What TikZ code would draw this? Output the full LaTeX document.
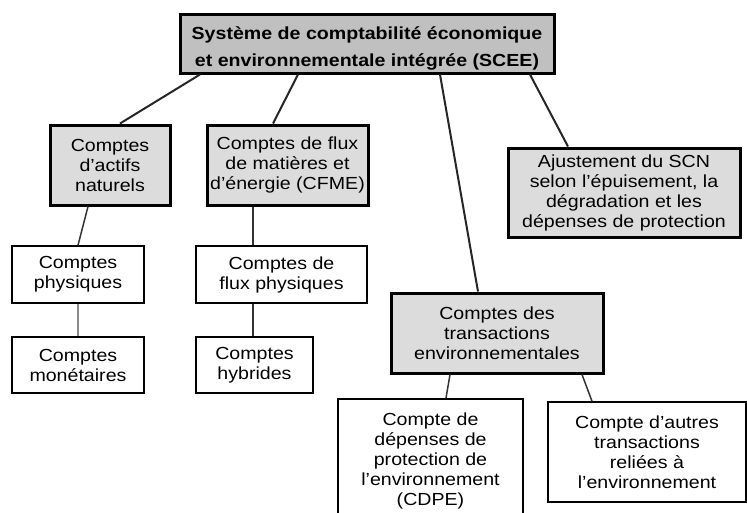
\documentclass[tikz,border=0pt]{standalone}
\usepackage{fontspec}
\setmainfont{Liberation Sans}[FakeStretch=1.12]
\begin{document}
\begin{tikzpicture}[x=1pt,y=-1pt,
  base/.style={draw=black,align=center,inner sep=0pt,text=black,
    font=\fontsize{17.5}{20}\selectfont},
  mainbox/.style={base,fill=boxgray,line width=3pt},
  subbox/.style={base,fill=boxlight,line width=3pt},
  leafbox/.style={base,fill=white,line width=1.5pt},
  link/.style={line width=2pt,draw=black!85},
  sublink/.style={line width=1.5pt,draw=black!80}]
\definecolor{boxgray}{HTML}{C0C0C0}
\definecolor{boxlight}{HTML}{DCDCDC}
\useasboundingbox (0,0) rectangle (747,512);
\clip (0,0) rectangle (747,512);

% root
\node[mainbox,minimum width=374pt,minimum height=59pt,
  font=\bfseries\fontsize{17.5}{27}\selectfont] (top) at (367,43.5)
  {\rule{0pt}{22pt}Système de comptabilité économique\\et environnementale intégrée (SCEE)};

% second level
\node[subbox,minimum width=120pt,minimum height=80pt] (actifs) at (110,165)
  {Comptes\\d’actifs\\naturels};
\node[subbox,minimum width=161pt,minimum height=80pt] (cfme) at (287.5,165)
  {Comptes de flux\\de matières et\\d’énergie (CFME)};
\node[subbox,minimum width=232pt,minimum height=89pt] (ajust) at (624,192.5)
  {Ajustement du SCN\\selon l’épuisement, la\\dégradation et les\\dépenses de protection};
\node[subbox,minimum width=212pt,minimum height=80pt] (trans) at (497,333)
  {Comptes des\\transactions\\environnementales};

% leaves
\node[leafbox,minimum width=132pt,minimum height=57pt] (phys) at (78,274.5)
  {Comptes\\physiques};
\node[leafbox,minimum width=132pt,minimum height=56pt] (mone) at (78,365)
  {Comptes\\monétaires};
\node[leafbox,minimum width=171pt,minimum height=57pt] (fluxphys) at (281.5,274.5)
  {Comptes de\\flux physiques};
\node[leafbox,minimum width=117pt,minimum height=56pt] (hybr) at (254.5,365)
  {Comptes\\hybrides};
\node[leafbox,minimum width=185pt,minimum height=124pt,anchor=north] (cdpe) at (430.5,398)
  {Compte de\\dépenses de\\protection de\\l’environnement\\(CDPE)};
\node[leafbox,minimum width=198pt,minimum height=100pt] (autres) at (647,452)
  {Compte d’autres\\transactions\\reliées à\\l’environnement};

% connectors
\draw[link] ([xshift=-167pt]top.south) -- ([xshift=10pt]actifs.north);
\draw[link] ([xshift=-69pt]top.south) -- ([xshift=-14.5pt]cfme.north);
\draw[link] ([xshift=73pt]top.south) -- ([xshift=-19pt]trans.north);
\draw[link] ([xshift=163pt]top.south) -- ([xshift=-56pt]ajust.north);
\draw[sublink] ([xshift=-22pt]actifs.south) -- (phys.north);
\draw[sublink,draw=black!45] (phys.south) -- (mone.north);
\draw[sublink] ([xshift=-34.5pt]cfme.south) -- ([xshift=-28.5pt]fluxphys.north);
\draw[sublink] ([xshift=-28.5pt]fluxphys.south) -- ([xshift=-1.5pt]hybr.north);
\draw[sublink] ([xshift=-47pt]trans.south) -- ([xshift=15.5pt]cdpe.north);
\draw[sublink] ([xshift=85pt]trans.south) -- ([xshift=-55pt]autres.north);
\end{tikzpicture}
\end{document}
